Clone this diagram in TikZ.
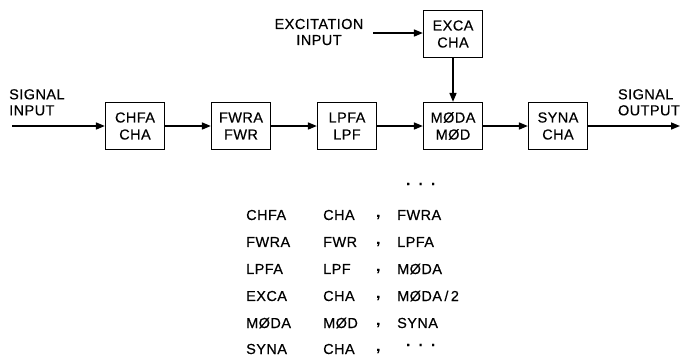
\documentclass[tikz,border=0pt]{standalone}
\usepackage{fontspec}
\setmainfont[LetterSpace=3,FakeBold=0.4]{Liberation Sans}
\usetikzlibrary{arrows.meta}
\tikzset{
  blk/.style={draw, line width=1.2pt, minimum width=59pt, minimum height=47pt, align=center, inner sep=0pt, font=\fontsize{14.5}{17}\selectfont},
  lbl/.style={align=left, inner sep=0pt, font=\fontsize{14.5}{16}\selectfont},
  tbl/.style={anchor=west, inner sep=0pt, font=\fontsize{14.5}{16}\selectfont},
  flow/.style={line width=1.6pt, -{Triangle[length=9pt,width=7pt]}}
}
\newcommand{\tdots}{\textbf{.}\hspace{8pt}\textbf{.}\hspace{8pt}\textbf{.}}
\begin{document}
\begin{tikzpicture}[x=1pt,y=-1pt]
\useasboundingbox (0,0) rectangle (680,357);
% blocks
\node[blk] (chfa) at (135,126) {CHFA\\CHA};
\node[blk] (fwra) at (241,126) {FWRA\\FWR};
\node[blk] (lpfa) at (347,126) {LPFA\\LPF};
\node[blk] (moda) at (453,126) {MØDA\\MØD};
\node[blk] (syna) at (558,126) {SYNA\\CHA};
\node[blk] (exca) at (453,34) {EXCA\\CHA};
% labels
\node[lbl, anchor=north west] (sigin) at (9,89) {SIGNAL\\INPUT};
\node[lbl, anchor=north east] (sigout) at (680,89) {SIGNAL\\OUTPUT};
\node[lbl, align=center] (excin) at (319,32) {EXCITATION\\INPUT};
\coordinate (inL) at (12,126);
\coordinate (outR) at (680,126);
\coordinate (exL) at (373,33);
% connectors
\draw[flow] (inL) -- (chfa.west);
\draw[flow] (chfa) -- (fwra);
\draw[flow] (fwra) -- (lpfa);
\draw[flow] (lpfa) -- (moda);
\draw[flow] (moda) -- (syna);
\draw[flow] (syna.east) -- (outR);
\draw[flow] (exL) -- (exca.west |- exL);
\draw[flow] (exca) -- (moda);
% table
\node[tbl] (dots0) at (406,184) {\tdots};
\node[tbl] (r1a) at (246,215) {CHFA};
\node[tbl] (r1b) at (323,215) {CHA};
\node[tbl] (r1c) at (376,217) {\textbf{,}};
\node[tbl] (r1d) at (397,215) {FWRA};
\node[tbl] (r2a) at (246,242) {FWRA};
\node[tbl] (r2b) at (323,242) {FWR};
\node[tbl] (r2c) at (376,244) {\textbf{,}};
\node[tbl] (r2d) at (397,242) {LPFA};
\node[tbl] (r3a) at (246,269) {LPFA};
\node[tbl] (r3b) at (323,269) {LPF};
\node[tbl] (r3c) at (376,271) {\textbf{,}};
\node[tbl] (r3d) at (397,269) {MØDA};
\node[tbl] (r4a) at (246,296) {EXCA};
\node[tbl] (r4b) at (323,296) {CHA};
\node[tbl] (r4c) at (376,298) {\textbf{,}};
\node[tbl] (r4d) at (397,296) {MØDA\,/\,2};
\node[tbl] (r5a) at (246,323) {MØDA};
\node[tbl] (r5b) at (323,323) {MØD};
\node[tbl] (r5c) at (376,325) {\textbf{,}};
\node[tbl] (r5d) at (397,323) {SYNA};
\node[tbl] (r6a) at (246,349) {SYNA};
\node[tbl] (r6b) at (323,349) {CHA};
\node[tbl] (r6c) at (376,351) {\textbf{,}};
\node[tbl] (r6d) at (406,345) {\tdots};
\end{tikzpicture}
\end{document}
